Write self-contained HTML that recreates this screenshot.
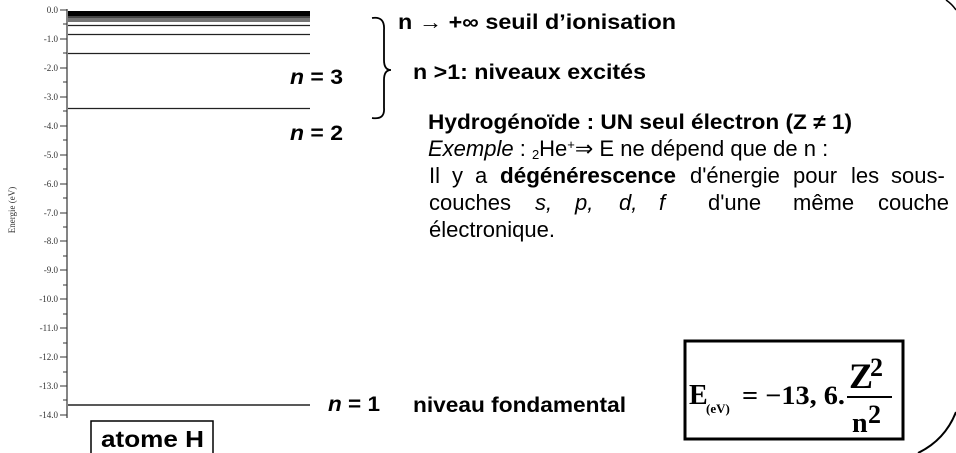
<!DOCTYPE html>
<html><head><meta charset="utf-8"><style>
html,body{margin:0;padding:0;background:#fff;}
svg{display:block}
.t{font-family:"Liberation Serif",serif;font-size:9px;fill:#333}
.b{font-family:"Liberation Sans",sans-serif;font-weight:bold;font-size:21px}
.r{font-family:"Liberation Sans",sans-serif;font-size:22px}
</style></head><body>
<svg width="956" height="453" viewBox="0 0 956 453" xmlns="http://www.w3.org/2000/svg">
<line x1="67" y1="9" x2="67" y2="418" stroke="#333" stroke-width="1.2"/>
<g stroke="#333" stroke-width="1">
<line x1="60" y1="10" x2="67" y2="10"/><line x1="60" y1="39" x2="67" y2="39"/><line x1="60" y1="68" x2="67" y2="68"/><line x1="60" y1="97" x2="67" y2="97"/><line x1="60" y1="126" x2="67" y2="126"/><line x1="60" y1="155" x2="67" y2="155"/><line x1="60" y1="184" x2="67" y2="184"/><line x1="60" y1="213" x2="67" y2="213"/><line x1="60" y1="241" x2="67" y2="241"/><line x1="60" y1="270" x2="67" y2="270"/><line x1="60" y1="299" x2="67" y2="299"/><line x1="60" y1="328" x2="67" y2="328"/><line x1="60" y1="357" x2="67" y2="357"/><line x1="60" y1="386" x2="67" y2="386"/><line x1="60" y1="415" x2="67" y2="415"/>
<line x1="63" y1="24" x2="67" y2="24"/><line x1="63" y1="53" x2="67" y2="53"/><line x1="63" y1="82" x2="67" y2="82"/><line x1="63" y1="111" x2="67" y2="111"/><line x1="63" y1="140" x2="67" y2="140"/><line x1="63" y1="169" x2="67" y2="169"/><line x1="63" y1="198" x2="67" y2="198"/><line x1="63" y1="227" x2="67" y2="227"/><line x1="63" y1="256" x2="67" y2="256"/><line x1="63" y1="285" x2="67" y2="285"/><line x1="63" y1="314" x2="67" y2="314"/><line x1="63" y1="343" x2="67" y2="343"/><line x1="63" y1="372" x2="67" y2="372"/><line x1="63" y1="400" x2="67" y2="400"/>
</g>
<g class="t" text-anchor="end">
<text x="58" y="13">0.0</text><text x="58" y="42">-1.0</text><text x="58" y="71">-2.0</text><text x="58" y="100">-3.0</text><text x="58" y="129">-4.0</text><text x="58" y="158">-5.0</text><text x="58" y="187">-6.0</text><text x="58" y="216">-7.0</text><text x="58" y="244">-8.0</text><text x="58" y="273">-9.0</text><text x="58" y="302">-10.0</text><text x="58" y="331">-11.0</text><text x="58" y="360">-12.0</text><text x="58" y="389">-13.0</text><text x="58" y="418">-14.0</text>
</g>
<text class="t" transform="translate(15,210) rotate(-90)" text-anchor="middle">Energie (eV)</text>
<rect x="68" y="11" width="242" height="5" fill="#000"/>
<rect x="68" y="16" width="242" height="2" fill="#444"/>
<g stroke="#222" stroke-width="1.2">
<line x1="68" y1="19" x2="310" y2="19"/>
<line x1="68" y1="21" x2="310" y2="21"/>
<line x1="68" y1="25.5" x2="310" y2="25.5"/>
<line x1="68" y1="34.5" x2="310" y2="34.5"/>
<line x1="68" y1="53.5" x2="310" y2="53.5"/>
<line x1="68" y1="108.5" x2="310" y2="108.5"/>
<line x1="68" y1="405" x2="310" y2="405" stroke-width="1.5"/>
</g>
<g font-family="Liberation Sans,sans-serif" font-weight="bold" font-size="21">
<text x="290" y="84" textLength="53" lengthAdjust="spacingAndGlyphs"><tspan font-style="italic">n</tspan> = 3</text>
<text x="290" y="140" textLength="53" lengthAdjust="spacingAndGlyphs"><tspan font-style="italic">n</tspan> = 2</text>
<text x="328" y="411" textLength="52" lengthAdjust="spacingAndGlyphs"><tspan font-style="italic">n</tspan> = 1</text>
</g>
<path d="M372,18 Q385,16 384,30 L384,60 Q384,70 391,70 Q384,70 384,80 L384,108 Q385,120 372,118" fill="none" stroke="#000" stroke-width="1.8"/>
<text class="b" x="398" y="29" textLength="278" lengthAdjust="spacingAndGlyphs">n → +∞  seuil d’ionisation</text>
<text class="b" x="413" y="79" textLength="233" lengthAdjust="spacingAndGlyphs">n &gt;1:  niveaux excités</text>
<text class="b" x="428" y="129" textLength="424" lengthAdjust="spacingAndGlyphs">Hydrogénoïde : UN seul électron (Z ≠ 1)</text>
<text class="r" x="428" y="156"><tspan font-style="italic">Exemple</tspan> : <tspan font-size="13" dy="3">2</tspan><tspan dy="-3">He</tspan><tspan font-size="13" dy="-7">+</tspan><tspan dy="7">⇒ E ne dépend que de n :</tspan></text>
<g class="r">
<text x="429" y="183">Il</text><text x="452" y="183">y</text><text x="475" y="183">a</text><text x="500" y="183" font-weight="bold" textLength="176" lengthAdjust="spacingAndGlyphs">dégénérescence</text><text x="690" y="183">d'énergie</text><text x="793" y="183">pour</text><text x="851" y="183">les</text><text x="891" y="183">sous-</text>
<text x="429" y="210">couches</text><text x="535" y="210" font-style="italic">s,</text><text x="575" y="210" font-style="italic">p,</text><text x="619" y="210" font-style="italic">d,</text><text x="659" y="210" font-style="italic">f</text><text x="708" y="210">d'une</text><text x="793" y="210">même</text><text x="878" y="210">couche</text>
<text x="429" y="237">électronique.</text>
</g>
<text class="b" x="413" y="412" textLength="213" lengthAdjust="spacingAndGlyphs">niveau fondamental</text>
<rect x="685" y="341" width="218" height="98" fill="none" stroke="#000" stroke-width="3"/>
<g font-family="Liberation Serif,serif" font-weight="bold">
<text x="689" y="404" font-size="28">E</text>
<text x="706" y="413" font-size="13">(eV)</text>
<text x="742" y="404" font-size="26" textLength="103" lengthAdjust="spacingAndGlyphs">= −13, 6.</text>
<text x="849" y="388" font-size="36">Z</text><text x="870" y="376" font-size="26">2</text>
<line x1="847" y1="397" x2="892" y2="397" stroke="#000" stroke-width="2"/>
<text x="852" y="432" font-size="28">n</text><text x="868" y="423" font-size="26">2</text>
</g>
<rect x="91" y="421" width="122" height="33" fill="none" stroke="#000" stroke-width="1.5"/>
<text x="101" y="447" font-family="Liberation Sans,sans-serif" font-weight="bold" font-size="23" textLength="103" lengthAdjust="spacingAndGlyphs">atome H</text>
<path d="M956,412 Q945,440 918,453" fill="none" stroke="#000" stroke-width="2"/>
<path d="M946,0 Q952,4 956,10" fill="none" stroke="#000" stroke-width="1.5"/>
</svg>
</body></html>
